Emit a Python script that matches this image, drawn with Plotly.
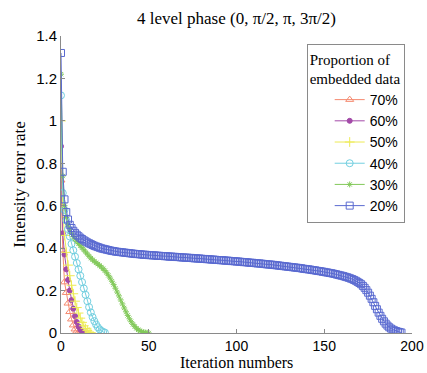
import plotly.graph_objects as go

labels = ["70%", "60%", "50%", "40%", "30%", "20%"]

err_70 = [0.72, 0.39, 0.24, 0.19, 0.14, 0.10, 0.065, 0.037, 0.018, 0.008, 0.003, 0.001]
err_60 = [0.88, 0.47, 0.37, 0.30, 0.25, 0.20, 0.155, 0.115, 0.08, 0.052, 0.031, 0.016, 0.007, 0.002]
err_50 = [1.0, 0.58, 0.46, 0.38, 0.32, 0.27, 0.225, 0.185, 0.15, 0.12, 0.094, 0.07, 0.05, 0.034,
          0.021, 0.012, 0.005, 0.002]
err_40 = [1.12, 0.66, 0.58, 0.53, 0.49, 0.455, 0.42, 0.39, 0.36, 0.33, 0.30, 0.27, 0.24, 0.21,
          0.18, 0.15, 0.122, 0.097, 0.075, 0.056, 0.04, 0.027, 0.017, 0.01, 0.005, 0.002]
err_30 = [1.22, 0.74, 0.60, 0.545, 0.51, 0.49, 0.47, 0.455, 0.443, 0.432,
          0.422, 0.412, 0.402, 0.392, 0.382, 0.372, 0.362, 0.353, 0.345, 0.338,
          0.331, 0.325, 0.318, 0.311, 0.303, 0.294, 0.284, 0.272, 0.259, 0.244,
          0.228, 0.211, 0.193, 0.175, 0.156, 0.137, 0.118, 0.100, 0.083, 0.067,
          0.053, 0.041, 0.031, 0.022, 0.015, 0.010, 0.006, 0.003, 0.002, 0.001,
          0.0]
err_20 = [1.32, 0.76, 0.63, 0.57, 0.535, 0.51, 0.495, 0.482, 0.472, 0.463,
          0.456, 0.449, 0.443, 0.437, 0.432, 0.427, 0.423, 0.419, 0.415, 0.411,
          0.408, 0.405, 0.402, 0.399, 0.397, 0.395, 0.393, 0.391, 0.389, 0.387,
          0.386, 0.384, 0.383, 0.382, 0.381, 0.380, 0.379, 0.378, 0.377, 0.376,
          0.375, 0.374, 0.373, 0.372, 0.372, 0.371, 0.370, 0.369, 0.369, 0.368,
          0.367, 0.367, 0.366, 0.366, 0.365, 0.364, 0.364, 0.363, 0.363, 0.362,
          0.362, 0.361, 0.360, 0.360, 0.359, 0.359, 0.358, 0.358, 0.357, 0.356,
          0.356, 0.355, 0.355, 0.354, 0.354, 0.353, 0.352, 0.352, 0.351, 0.351,
          0.350, 0.349, 0.349, 0.348, 0.348, 0.347, 0.346, 0.346, 0.345, 0.344,
          0.344, 0.343, 0.343, 0.342, 0.341, 0.341, 0.340, 0.339, 0.339, 0.338,
          0.337, 0.337, 0.336, 0.335, 0.334, 0.334, 0.333, 0.332, 0.331, 0.331,
          0.330, 0.329, 0.328, 0.328, 0.327, 0.326, 0.325, 0.324, 0.323, 0.323,
          0.322, 0.321, 0.320, 0.319, 0.318, 0.317, 0.316, 0.315, 0.314, 0.313,
          0.312, 0.311, 0.310, 0.309, 0.308, 0.307, 0.306, 0.305, 0.303, 0.302,
          0.301, 0.300, 0.299, 0.297, 0.296, 0.295, 0.293, 0.292, 0.291, 0.289,
          0.288, 0.286, 0.285, 0.283, 0.282, 0.280, 0.278, 0.276, 0.274, 0.272,
          0.270, 0.268, 0.265, 0.263, 0.260, 0.257, 0.254, 0.250, 0.246, 0.241,
          0.236, 0.230, 0.222, 0.213, 0.202, 0.190, 0.176, 0.161, 0.145, 0.128,
          0.112, 0.096, 0.081, 0.067, 0.055, 0.044, 0.035, 0.027, 0.021, 0.016,
          0.012, 0.009, 0.006, 0.004, 0.002]

series = [err_70, err_60, err_50, err_40, err_30, err_20]
colors = ["#F58A70", "#A34AA8", "#EDEA55", "#72CFE0", "#82C95A", "#5A6AD0"]
symbols = ["triangle-up-open", "circle", "cross-thin-open", "circle-open", "asterisk-open", "square-open"]
sizes = [7, 5, 7, 7, 5, 7]

x_ticks = [0, 50, 100, 150, 200]
y_ticks = [0, 0.2, 0.4, 0.6, 0.8, 1, 1.2, 1.4]

SERIF = "Liberation Serif, Times New Roman"
SANS = "Liberation Sans, Arial"

fig = go.Figure()
for name, vals, c, s, sz in zip(labels, series, colors, symbols, sizes):
    fig.add_trace(go.Scatter(
        x=list(range(len(vals))), y=vals, name=name, mode="lines+markers",
        line=dict(color=c, width=1),
        marker=dict(symbol=s, size=sz, color=c, line=dict(color=c, width=1)),
    ))

axis_common = dict(
    showline=True, linecolor="#8a8a8a", linewidth=1, mirror=False, automargin=False,
    ticks="inside", ticklen=4, tickcolor="#8a8a8a", showgrid=False, zeroline=False,
    tickfont=dict(family=SANS, size=15, color="black"),
)

fig.update_layout(
    width=427, height=373,
    margin=dict(l=61, r=15, t=36, b=40),
    paper_bgcolor="white", plot_bgcolor="white",
    title=dict(text="4 level phase (0, \u03c0/2, \u03c0, 3\u03c0/2)", xref="paper", x=0.5, xanchor="center",
               y=0.952, yanchor="middle",
               font=dict(family=SERIF, size=17, color="black")),
    xaxis=dict(range=[0, 200], tickvals=x_ticks, ticklabelstandoff=0, **axis_common),
    yaxis=dict(range=[0, 1.4], tickvals=y_ticks, **axis_common,
               title=dict(text="Intensity error rate", standoff=6,
                          font=dict(family=SERIF, size=17, color="black"))),
    annotations=[dict(text="Iteration numbers", xref="paper", yref="paper", x=0.5, y=-0.099,
                      xanchor="center", yanchor="middle", showarrow=False,
                      font=dict(family=SERIF, size=16, color="black"))],
    legend=dict(
        x=0.70, y=0.973, xanchor="left", yanchor="top",
        bgcolor="white", bordercolor="#8a8a8a", borderwidth=1,
        font=dict(family=SANS, size=14, color="black"),
        title=dict(text="Proportion of<br>embedded data", side="top",
                   font=dict(family=SERIF, size=15, color="black")),
        indentation=22, tracegroupgap=0, itemwidth=30,
    ),
    showlegend=True,
)
fig.update_xaxes(tickfont=dict(size=14))

fig.write_html("out.html")
